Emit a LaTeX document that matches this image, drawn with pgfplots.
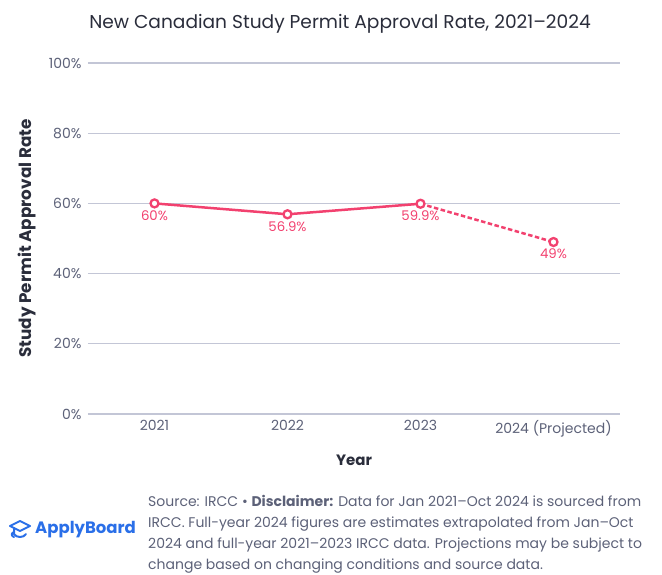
\documentclass[border=0pt]{standalone}
\usepackage{pgfplots}
\pgfplotsset{compat=1.18}
\usepackage{fontspec}
\setmainfont{Poppins}
\definecolor{titlec}{HTML}{2A2D3B}
\definecolor{tickc}{HTML}{5C6178}
\definecolor{gridc}{HTML}{C3C6D6}
\definecolor{linec}{HTML}{F2416F}
\definecolor{abblue}{HTML}{2A6FE8}
\definecolor{footc}{HTML}{5C6178}
\begin{document}
\begin{tikzpicture}
\path[use as bounding box] (0pt,0pt) rectangle (662pt,574pt);
\node[font=\fontsize{18.6}{21}\selectfont, text=titlec] at (340pt,550pt) {New Canadian Study Permit Approval Rate, 2021–2024};
\begin{axis}[
  at={(88pt,160pt)}, anchor=south west,
  width=532pt, height=351pt, scale only axis,
  xmin=-0.5, xmax=3.5, ymin=0, ymax=100,
  clip=false,
  axis line style={draw=none},
  major tick length=0pt,
  ymajorgrids, grid style={gridc, line width=1.2pt},
  ytick={0,20,40,60,80,100},
  yticklabel={\pgfmathprintnumber{\tick}\%},
  yticklabel style={font=\fontsize{14}{16}\selectfont, text=tickc, xshift=-3pt},
  xtick={0,1,2,3},
  xticklabels={2021,2022,2023,2024 (Projected)},
  xticklabel style={font=\fontsize{14}{16}\selectfont, text=tickc, yshift=-3pt},
  /pgf/number format/assume math mode=true,
  xlabel={Year},
  xlabel style={font=\fontsize{15}{17}\selectfont\bfseries, text=titlec, yshift=-11pt},
  ylabel={Study Permit Approval Rate},
  ylabel style={font=\fontsize{16.8}{19}\selectfont\bfseries, text=titlec, yshift=6pt},
  nodes near coords style={font=\fontsize{13.3}{15}\selectfont, text=linec, anchor=north, yshift=-2.5pt},
]
\addplot[linec, line width=2.5pt, dashed, dash pattern=on 4.5pt off 2.5pt] coordinates {(2,59.9) (3,49)};
\addplot[linec, line width=2.5pt, mark=*, mark size=4pt, mark options={solid, fill=white, draw=linec, line width=2.3pt},
  nodes near coords={\pgfplotspointmeta\%}, point meta=explicit symbolic]
  coordinates {(0,60)[60] (1,56.9)[56.9] (2,59.9)[59.9]};
\addplot[linec, only marks, mark=*, mark size=4pt, mark options={solid, fill=white, draw=linec, line width=2.3pt},
  nodes near coords={49\%}] coordinates {(3,49)};
\end{axis}
% logo
\begin{scope}[shift={(8pt,36pt)}, x=1pt, y=1pt, abblue, line width=2pt, line cap=round, line join=round]
\draw (2,12) -- (12,17) -- (22,12) -- (12,7) -- cycle;
\draw (6,10) -- (6,4) .. controls (8,0) and (16,0) .. (18,4);
\draw (6,6) .. controls (3,5) and (3,2) .. (6,1);
\end{scope}
\node[anchor=west, font=\fontsize{16.5}{19}\selectfont\bfseries, text=abblue, inner sep=0] at (35pt,44pt) {ApplyBoard};
\node[anchor=north west, align=left, font=\fontsize{14}{20.7}\selectfont, text=footc, inner sep=0] at (148pt,78.5pt) {Source: IRCC • \textbf{Disclaimer:} Data for Jan 2021–Oct 2024 is sourced from\\IRCC. Full-year 2024 figures are estimates extrapolated from Jan–Oct\\2024 and full-year 2021–2023 IRCC data. Projections may be subject to\\change based on changing conditions and source data.};
\end{tikzpicture}
\end{document}
